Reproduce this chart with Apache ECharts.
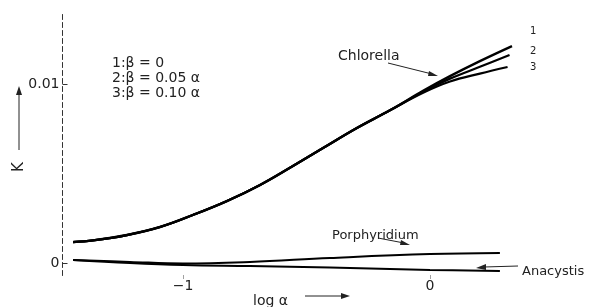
<!DOCTYPE html>
<html><head><meta charset="utf-8">
<script src="https://cdn.jsdelivr.net/npm/echarts@6/dist/echarts.min.js"></script>
<style>html,body{margin:0;padding:0;background:#fff}#c{width:598px;height:307px}</style>
</head><body><div id="c"></div>
<script>
// log alpha positions and K values
const chlorellaX = [-1.445, -1.364, -1.227, -1.093, -0.960, -0.822, -0.688, -0.555, -0.433, -0.296, -0.162, -0.028, 0.081, 0.202];
const chlorellaCommonK = [0.00117, 0.00126, 0.00156, 0.00201, 0.00268, 0.00346, 0.00436, 0.00542, 0.00642, 0.00754, 0.00853];
const curve1TailK = [0.00962, 0.01044, 0.01128];
const curve2TailK = [0.00957, 0.01030, 0.01096];
const curve3TailK = [0.00951, 0.01014, 0.01058];
const curveEndX = [0.332, 0.322, 0.314];
const curveEndK = [0.01212, 0.01162, 0.01095];

const lowerX = [-1.445, -1.215, -1.0, -0.729, -0.405, 0.0, 0.283];
const porphyridiumK = [0.00017, 0.00006, -0.00003, 0.00006, 0.00028, 0.00050, 0.00056];
const anacystisK = [0.00017, 0.0, -0.00011, -0.00017, -0.00025, -0.00039, -0.00045];

const yTickValues = [0, 0.01];
const yTickLabels = ['0', '0.01'];
const xTickValues = [-1, 0];
const xTickLabels = ['\u22121', '0'];

function pairs(xs, ys) { return ys.map((y, i) => [xs[i], y]); }
const c1 = pairs(chlorellaX, chlorellaCommonK.concat(curve1TailK)).concat([[curveEndX[0], curveEndK[0]]]);
const c2 = pairs(chlorellaX, chlorellaCommonK.concat(curve2TailK)).concat([[curveEndX[1], curveEndK[1]]]);
const c3 = pairs(chlorellaX, chlorellaCommonK.concat(curve3TailK)).concat([[curveEndX[2], curveEndK[2]]]);
const por = pairs(lowerX, porphyridiumK);
const ana = pairs(lowerX, anacystisK);

const chart = echarts.init(document.getElementById('c'), null, {renderer: 'canvas'});
const FONT = 'DejaVu Sans';
const txt = (t, x, y, size, extra) => Object.assign({type: 'text', x, y, style: {text: t, fill: '#222', font: size + 'px "' + FONT + '"', textBaseline: 'middle'}}, extra || {});
const lineEl = (x1, y1, x2, y2, w) => ({type: 'line', shape: {x1, y1, x2, y2}, style: {stroke: '#222', lineWidth: w || 1}});
const head = (pts) => ({type: 'polygon', shape: {points: pts}, style: {fill: '#222'}});

const sLine = (data, w) => ({type: 'line', data, smooth: 0.4, symbol: 'none', lineStyle: {color: '#000', width: w}, silent: true, animation: false});

chart.setOption({
  animation: false,
  grid: {left: 59.5, right: 44.5, top: 12.4, bottom: 31.5},
  xAxis: {
    type: 'value', min: -1.5, max: 0.5,
    axisLine: {show: false, onZero: false},
    splitLine: {show: false},
    axisTick: {show: true, customValues: xTickValues, length: 4, lineStyle: {color: '#444', type: 'dotted'}},
    axisLabel: {customValues: xTickValues, formatter: v => xTickLabels[xTickValues.indexOf(v)], color: '#222', fontSize: 14, fontFamily: FONT, margin: 4}
  },
  yAxis: {
    type: 'value', min: -0.0007, max: 0.014, offset: -3,
    axisLine: {show: true, onZero: false, lineStyle: {color: '#333', type: [5, 3], width: 1}},
    splitLine: {show: false},
    axisTick: {show: true, customValues: yTickValues, length: 5, inside: true, lineStyle: {color: '#333'}},
    axisLabel: {customValues: yTickValues, formatter: v => yTickLabels[yTickValues.indexOf(v)], color: '#222', fontSize: 14, fontFamily: FONT, margin: 3}
  },
  series: [sLine(c1, 2.4), sLine(c2, 2.2), sLine(c3, 2.2), sLine(por, 2), sLine(ana, 2)],
  graphic: [
    txt('1:\u03b2 = 0', 112, 56, 14),
    txt('2:\u03b2 = 0.05 \u03b1', 112, 71, 14),
    txt('3:\u03b2 = 0.10 \u03b1', 112, 86, 14),
    txt('Chlorella', 338, 49, 14),
    lineEl(388, 63, 432, 74),
    head([[438, 76], [429, 71], [428, 76]]),
    txt('1', 530, 26, 10),
    txt('2', 530, 46, 10),
    txt('3', 530, 62, 10),
    txt('Porphyridium', 332, 229, 13),
    lineEl(378, 238, 404, 243),
    head([[410, 245], [401, 240], [400, 245]]),
    txt('Anacystis', 522, 265, 13),
    lineEl(484, 267, 518, 266),
    head([[476, 268], [486, 264], [486, 270]]),
    txt('log \u03b1', 253, 294, 14),
    lineEl(305, 296, 342, 296),
    head([[350, 296], [341, 293], [341, 299]]),
    {type: 'text', x: 19, y: 167, rotation: Math.PI / 2, originX: 0, originY: 0, style: {text: 'K', fill: '#222', font: '15px "' + FONT + '"', textVerticalAlign: 'middle', textAlign: 'center'}},
    lineEl(19, 150, 19, 94),
    head([[19, 86], [16, 95], [22, 95]])
  ]
});
</script>
</body></html>
